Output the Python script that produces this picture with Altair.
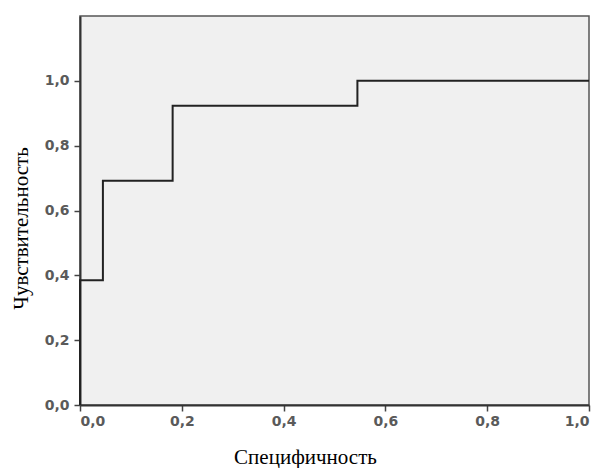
import altair as alt
import pandas as pd

spec_x = [0.0, 0.0, 0.045, 0.045, 0.182, 0.182, 0.545, 0.545, 1.0]
sens_y = [0.0, 0.385, 0.385, 0.692, 0.692, 0.923, 0.923, 1.0, 1.0]
ticks = [0.0, 0.2, 0.4, 0.6, 0.8, 1.0]

df = pd.DataFrame({"x": spec_x, "y": sens_y, "order": list(range(len(spec_x)))})

lbl = "replace(format(datum.value, '.1f'), '.', ',')"

chart = alt.Chart(df).mark_line(color="#222222", strokeWidth=2).encode(
    x=alt.X("x:Q", scale=alt.Scale(domain=[0, 1], nice=False),
            axis=alt.Axis(values=ticks, labelExpr=lbl, title="Специфичность",
                          grid=False, titlePadding=18, titleX=225)),
    y=alt.Y("y:Q", scale=alt.Scale(domain=[0, 1.2], nice=False),
            axis=alt.Axis(values=ticks, labelExpr=lbl, title="Чувствительность",
                          grid=False, titleX=-49, titleY=212, labelPadding=5)),
    order="order:O",
).properties(
    width=509, height=389,
    autosize="none",
    padding={"left": 72, "top": 8, "right": 3, "bottom": 64},
    background="white",
).configure_view(
    fill="#f0f0f0", stroke="#555555", strokeWidth=1.5
).configure_axis(
    domainColor="#333333", domainWidth=2, tickColor="#444444", tickSize=6, tickWidth=1.5,
    labelFont="DejaVu Sans", labelFontSize=14, labelFontWeight="bold", labelColor="#5a5a5a",
    labelPadding=3,
    titleFont="Liberation Serif", titleFontSize=21, titleFontWeight="normal", titleColor="#000000",
)

chart.save("out.html", embed_options={"renderer": "svg", "actions": False})
